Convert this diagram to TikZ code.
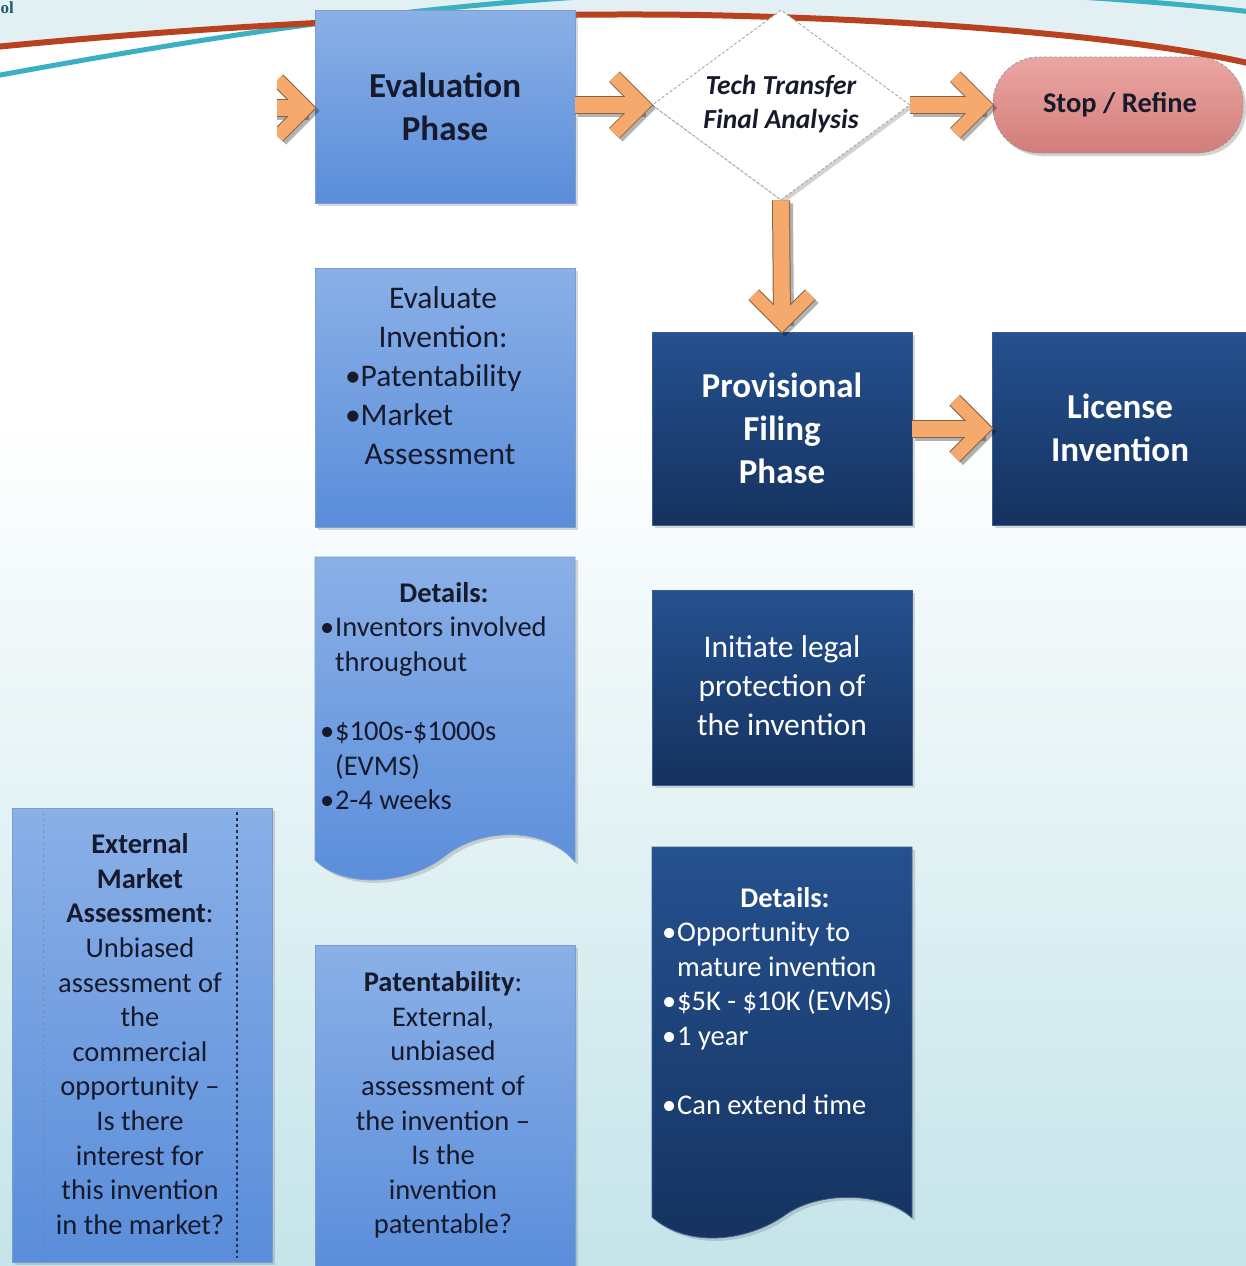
\documentclass[tikz,border=0pt]{standalone}
\usepackage{fontspec}
\setmainfont{Carlito}
\newfontfamily\titleserif{Liberation Serif}
\usetikzlibrary{shapes.geometric,shadows,calc}
\definecolor{bandcol}{HTML}{E2F0F4}
\definecolor{bgbot}{HTML}{C4E4E9}
\definecolor{redc}{HTML}{B8421F}
\definecolor{tealc}{HTML}{3BB0C2}
\definecolor{boxLT}{HTML}{8AB0E7}
\definecolor{boxLB}{HTML}{5A8DDA}
\definecolor{boxLE}{HTML}{7C9CCB}
\definecolor{darkT}{HTML}{25518F}
\definecolor{darkB}{HTML}{15325F}
\definecolor{darkE}{HTML}{3A5E94}
\definecolor{txtD}{HTML}{161A2C}
\definecolor{arrF}{HTML}{F6A96C}
\definecolor{arrE}{HTML}{8A6440}
\definecolor{stopT}{HTML}{EBA6A3}
\definecolor{stopB}{HTML}{D27D79}
\definecolor{titlec}{HTML}{1F5A72}
\newcommand\bul{\textbullet\hspace{1pt}}
\newcommand\fatarrow[3]{%
  \path (#2) ++(#3+180:9) coordinate (fatip);
  \path (fatip) ++(#3+135:40) coordinate (faA);
  \path (fatip) ++(#3-135:40) coordinate (faB);
  \draw[arrshadow, line width=18, transform canvas={shift={(3pt,-3pt)}}] (#1) -- (fatip);
  \draw[arrshadow, line width=15, line join=miter, transform canvas={shift={(3pt,-3pt)}}] (faA) -- (fatip) -- (faB);
  \draw[draw=arrE, line width=18] (#1) -- (fatip);
  \draw[draw=arrE, line width=15, line join=miter] (faA) -- (fatip) -- (faB);
  \draw[draw=arrF, line width=16] (#1) -- (fatip);
  \draw[draw=arrF, line width=13, line join=miter] (faA) -- (fatip) -- (faB);
}
\tikzset{
  arrshadow/.style={draw=black, opacity=0.3},
  lightbox/.style={rectangle, inner sep=0, outer sep=0, top color=boxLT, bottom color=boxLB,
    draw=boxLE, line width=0.8, drop shadow={shadow xshift=3pt, shadow yshift=-3pt, opacity=0.3}},
  darkbox/.style={rectangle, inner sep=0, outer sep=0, top color=darkT, bottom color=darkB,
    draw=darkE, line width=0.8, drop shadow={shadow xshift=3pt, shadow yshift=-3pt, opacity=0.3}},
  ttl/.style={font=\bfseries\fontsize{35}{43}\selectfont, align=center, inner sep=0},
  t31/.style={font=\fontsize{31.5}{39}\selectfont, align=center, inner sep=0},
  t28/.style={font=\fontsize{28.5}{34.6}\selectfont, align=center, inner sep=0},
  t28l/.style={font=\fontsize{28.5}{34.6}\selectfont, align=left, inner sep=0},
}
\begin{document}
\begin{tikzpicture}[x=1pt,y=-1pt]
\useasboundingbox (0,0) rectangle (1246,1266);
\clip (0,0) rectangle (1246,1266);
% background
\fill[white] (0,0) rectangle (1246,1266);
\shade[top color=white, bottom color=bgbot] (0,420) rectangle (1246,1266);
\fill[bandcol] (-5,-5) -- (-5,47) .. controls (250,22) and (500,12) .. (700,15)
   .. controls (950,20) and (1150,40) .. (1252,64) -- (1252,-5) -- cycle;
\draw[tealc, line width=5] (-5,76) .. controls (300,20) and (500,-5) .. (780,-12)
   .. controls (980,-12) and (1150,0) .. (1252,12);
\draw[redc, line width=6] (-5,47) .. controls (250,22) and (500,12) .. (700,15)
   .. controls (950,20) and (1150,40) .. (1252,64);
\node[font=\titleserif\bfseries\fontsize{17}{17}\selectfont, text=titlec, anchor=north west, inner sep=0] (title) at (0.5,2) {ol};

% left column boxes
\node[lightbox, minimum width=260, minimum height=193] (eval) at (445,106.5) {};
\node[ttl, text=txtD] (evalT) at (eval) {Evaluation\\Phase};

\node[lightbox, minimum width=260, minimum height=259] (evalinv) at (445,397.5) {};
\node[t31, text=txtD] (evalinvT) at (443,376) {Evaluate\\Invention:\\
  \makebox[196pt][l]{\textbullet Patentability}\\
  \makebox[196pt][l]{\textbullet Market}\\
  \makebox[196pt][l]{\hphantom{\textbullet}\hspace{4pt}Assessment}};

\path[top color=boxLT, bottom color=boxLB, draw=boxLE, line width=0.8,
  drop shadow={shadow xshift=3pt, shadow yshift=-3pt, opacity=0.3}]
  (315,557) -- (575,557) -- (575,862) .. controls (545,825) and (480,828) .. (445,856)
  .. controls (410,884) and (345,890) .. (315,860) -- cycle;
\node[t28l, text=txtD] (det1T) at (444,696) {%
  \makebox[248pt]{\bfseries Details:}\\
  \makebox[248pt][l]{\bul Inventors involved}\\
  \makebox[248pt][l]{\hphantom{\bul}throughout}\\
  \mbox{}\\
  \makebox[248pt][l]{\bul\$100s-\$1000s}\\
  \makebox[248pt][l]{\hphantom{\bul}(EVMS)}\\
  \makebox[248pt][l]{\bul 2-4 weeks}};

\node[lightbox, minimum width=260, minimum height=330] (pat) at (445,1110) {};
\node[t28, text=txtD] (patT) at (443,1105) {\textbf{Patentability}:\\External,\\unbiased\\assessment of\\the invention --\\Is the\\invention\\patentable?};

\node[lightbox, minimum width=260, minimum height=454] (ext) at (142,1035) {};
\draw[dashed, draw=boxLE!80!black, opacity=0.5, line width=1] (43,812) -- (43,1258);
\draw[dashed, draw=txtD!80!boxLB, line width=1.3] (237,812) -- (237,1258);
\node[t28, text=txtD] (extT) at (140,1034) {\textbf{External}\\\textbf{Market}\\\textbf{Assessment}:\\Unbiased\\assessment of\\the\\commercial\\opportunity --\\Is there\\interest for\\this invention\\in the market?};

% right column
\node[diamond, minimum width=258, minimum height=190, inner sep=0, fill=white, draw=gray!75,
  densely dashed, line width=0.8, drop shadow={shadow xshift=3pt, shadow yshift=-3pt, opacity=0.35}] (dia) at (781,105) {};
\node[font=\bfseries\itshape\fontsize{27.5}{34}\selectfont, align=center, inner sep=0, text=txtD] (diaT) at (781,104) {Tech Transfer\\Final Analysis};

\node[rectangle, rounded corners=46, minimum width=250, minimum height=96, inner sep=0,
  top color=stopT, bottom color=stopB, draw=gray!80, densely dashed, line width=0.8,
  drop shadow={shadow xshift=3pt, shadow yshift=-3pt, opacity=0.35}] (stop) at (1118,105) {};
\node[font=\bfseries\fontsize{28.5}{34}\selectfont, inner sep=0, text=txtD] (stopT) at (1120,105) {Stop / Refine};

\node[darkbox, minimum width=260, minimum height=193] (prov) at (782,428.5) {};
\node[ttl, text=white] (provT) at (prov) {Provisional\\Filing\\Phase};

\node[darkbox, minimum width=256, minimum height=193] (lic) at (1120,428.5) {};
\node[ttl, text=white] (licT) at (1120,427.5) {License\\Invention};

\node[darkbox, minimum width=260, minimum height=195] (init) at (782,687.5) {};
\node[t31, text=white] (initT) at (782,685.5) {Initiate legal\\protection of\\the invention};

\path[top color=darkT, bottom color=darkB, draw=darkE, line width=0.8,
  drop shadow={shadow xshift=3pt, shadow yshift=-3pt, opacity=0.3}]
  (652,847) -- (912,847) -- (912,1218) .. controls (885,1192) and (820,1190) .. (785,1215)
  .. controls (750,1240) and (690,1250) .. (652,1217) -- cycle;
\node[t28l, text=white] (det2T) at (785,1001) {%
  \makebox[246pt]{\bfseries Details:}\\
  \makebox[246pt][l]{\bul Opportunity to}\\
  \makebox[246pt][l]{\hphantom{\bul}mature invention}\\
  \makebox[246pt][l]{\bul\$5K - \$10K (EVMS)}\\
  \makebox[246pt][l]{\bul 1 year}\\
  \mbox{}\\
  \makebox[246pt][l]{\bul Can extend time}};

% arrows
\coordinate (inL) at (230,108);
\begin{scope}
  \clip (277,0) rectangle (330,220);
  \fatarrow{inL}{eval.west |- inL}{0}
\end{scope}
\fatarrow{eval.east |- dia.west}{dia.west}{0}
\fatarrow{dia.east}{stop.west}{0}
\fatarrow{dia.south}{prov.north}{90}
\fatarrow{prov.east}{lic.west}{0}
\end{tikzpicture}
\end{document}
